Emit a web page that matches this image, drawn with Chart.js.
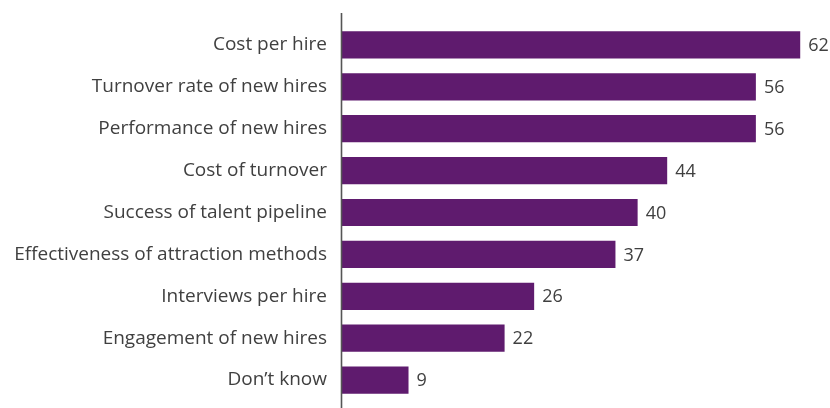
<!DOCTYPE html>
<html lang="en">
<head>
  <meta charset="UTF-8">
  <title>Hiring metrics</title>
  <script src="https://cdn.jsdelivr.net/npm/chart.js"></script>
  <style>
    body {
      margin: 0;
      background: #ffffff;
    }
    #wrap {
      width: 830px;
      height: 408px;
      position: relative;
    }
  </style>
</head>
<body>
  <div id="wrap">
    <canvas id="metrics"></canvas>
  </div>

  <script>
    const categories = [
      "Cost per hire",
      "Turnover rate of new hires",
      "Performance of new hires",
      "Cost of turnover",
      "Success of talent pipeline",
      "Effectiveness of attraction methods",
      "Interviews per hire",
      "Engagement of new hires",
      "Don\u2019t know"
    ];
    const values = [62, 56, 56, 44, 40, 37, 26, 22, 9];

    const FONT = "'Open Sans', sans-serif";
    const TEXT = "#404040";

    // value labels at the end of each bar + the long vertical axis line
    const extras = {
      id: "extras",
      afterDatasetsDraw(chart) {
        const ctx = chart.ctx;
        const meta = chart.getDatasetMeta(0);
        ctx.save();
        ctx.font = "18px " + FONT;
        ctx.fillStyle = TEXT;
        ctx.textAlign = "left";
        ctx.textBaseline = "middle";
        meta.data.forEach((bar, i) => {
          ctx.fillText(values[i], bar.x + 8, bar.y + 1);
        });
        const x = chart.chartArea.left - 0.5;
        ctx.strokeStyle = "#555555";
        ctx.lineWidth = 1.6;
        ctx.beginPath();
        ctx.moveTo(x, 13);
        ctx.lineTo(x, chart.height);
        ctx.stroke();
        ctx.restore();
      }
    };

    new Chart(document.getElementById("metrics"), {
      type: "bar",
      data: {
        labels: categories,
        datasets: [{
          data: values,
          backgroundColor: "#5f1b6e",
          categoryPercentage: 1,
          barPercentage: 0.65
        }]
      },
      options: {
        indexAxis: "y",
        responsive: true,
        maintainAspectRatio: false,
        animation: false,
        layout: { padding: { top: 24, bottom: 7, right: 15, left: 0 } },
        plugins: {
          legend: { display: false },
          tooltip: { enabled: false }
        },
        scales: {
          x: {
            display: false,
            min: 0,
            max: 64
          },
          y: {
            afterFit(scale) { scale.width = 342; },
            // tick marks hidden, but their length keeps labels off the axis
            grid: { display: false, drawTicks: true, tickLength: 15 },
            border: { display: false },
            ticks: {
              color: TEXT,
              padding: 0,
              font: { family: FONT, size: 19, lineHeight: 0.7 }
            }
          }
        }
      },
      plugins: [extras]
    });
  </script>
</body>
</html>
